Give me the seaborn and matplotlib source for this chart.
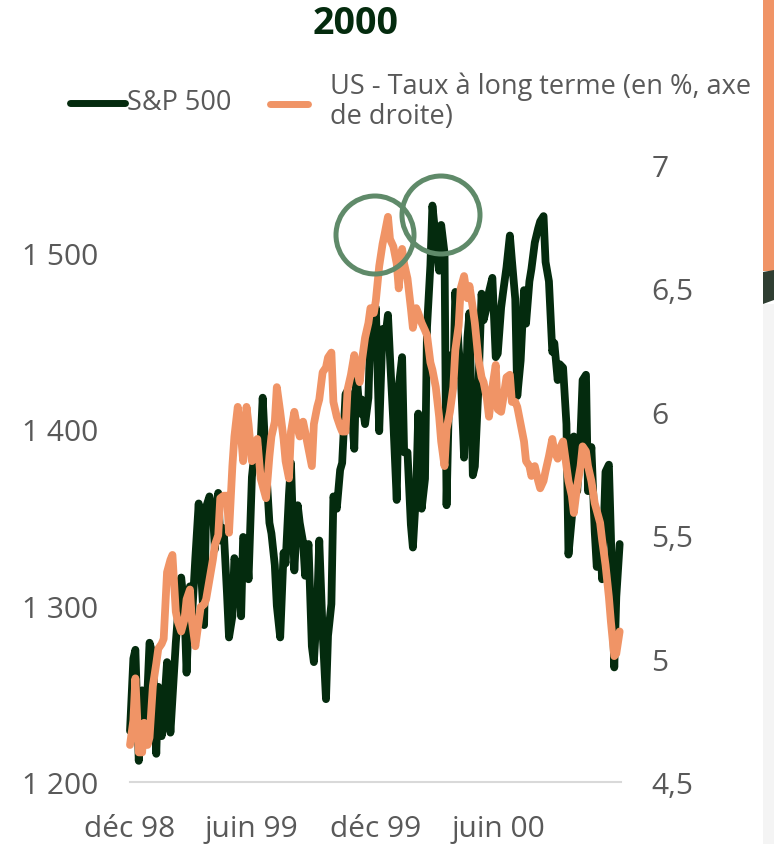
import pandas as pd
import matplotlib.pyplot as plt
import seaborn as sns
from matplotlib.patches import Ellipse, Rectangle, Polygon
from matplotlib.lines import Line2D

# S&P 500 (un point tous les 3 jours ouvrés)
sp500 = [1229, 1270, 1275, 1212, 1252, 1225, 1252, 1279, 1272, 1216,
         1254, 1226, 1239, 1268, 1228, 1247, 1279, 1294, 1316, 1297,
         1262, 1311, 1293, 1327, 1358, 1323, 1289, 1356, 1362, 1354,
         1332, 1364, 1337, 1344, 1307, 1282, 1294, 1327, 1320, 1294,
         1339, 1335, 1315, 1373, 1391, 1394, 1393, 1418, 1379, 1347,
         1341, 1323, 1300, 1282, 1330, 1324, 1363, 1381, 1320, 1357,
         1347, 1336, 1317, 1335, 1277, 1268, 1301, 1337, 1285, 1247,
         1283, 1301, 1362, 1355, 1377, 1381, 1420, 1422, 1417, 1389,
         1433, 1409, 1417, 1403, 1418, 1458, 1458, 1469, 1399, 1457,
         1449, 1465, 1441, 1404, 1360, 1424, 1441, 1387, 1387, 1346,
         1333, 1366, 1409, 1355, 1372, 1458, 1493, 1527, 1508, 1490,
         1516, 1500, 1357, 1442, 1429, 1478, 1446, 1433, 1384, 1452,
         1466, 1374, 1379, 1421, 1477, 1462, 1470, 1478, 1486, 1441,
         1443, 1469, 1478, 1492, 1510, 1496, 1474, 1419, 1439, 1479,
         1460, 1484, 1491, 1506, 1514, 1518, 1521, 1495, 1484, 1444,
         1449, 1428, 1437, 1435, 1403, 1329, 1350, 1396, 1365, 1398,
         1428, 1431, 1365, 1390, 1342, 1322, 1337, 1315, 1376, 1380,
         1340, 1265, 1305, 1335]

# Taux US à long terme (%), axe de droite
taux_long = [4.65, 4.75, 4.92, 4.62, 4.62, 4.74, 4.65, 4.68, 4.89, 4.98,
             5.04, 5.06, 5.08, 5.35, 5.40, 5.42, 5.19, 5.15, 5.11, 5.16,
             5.24, 5.28, 5.15, 5.05, 5.15, 5.21, 5.22, 5.24, 5.32, 5.40,
             5.46, 5.50, 5.65, 5.66, 5.66, 5.51, 5.78, 5.90, 6.02, 5.90,
             5.80, 6.02, 5.95, 5.80, 5.86, 5.89, 5.73, 5.70, 5.65, 5.82,
             5.90, 5.96, 6.10, 6.00, 5.89, 5.80, 5.73, 5.92, 6.00, 5.93,
             5.90, 5.96, 5.92, 5.85, 5.78, 5.95, 6.02, 6.05, 6.16, 6.18,
             6.22, 6.24, 6.04, 5.98, 5.94, 5.92, 5.92, 6.09, 6.15, 6.23,
             6.18, 6.12, 6.20, 6.30, 6.36, 6.42, 6.40, 6.45, 6.59, 6.68,
             6.72, 6.79, 6.70, 6.67, 6.60, 6.50, 6.66, 6.60, 6.54, 6.42,
             6.34, 6.42, 6.40, 6.36, 6.33, 6.31, 6.20, 6.17, 6.10, 5.98,
             5.88, 5.78, 5.93, 6.00, 6.10, 6.25, 6.35, 6.50, 6.55, 6.46,
             6.51, 6.42, 6.36, 6.22, 6.14, 6.12, 6.05, 5.98, 6.10, 6.19,
             6.01, 6.00, 6.05, 6.14, 6.15, 6.04, 6.04, 6.02, 5.95, 5.88,
             5.80, 5.78, 5.74, 5.78, 5.72, 5.69, 5.72, 5.76, 5.82, 5.89,
             5.84, 5.81, 5.85, 5.88, 5.78, 5.72, 5.66, 5.59, 5.70, 5.78,
             5.86, 5.84, 5.78, 5.72, 5.63, 5.60, 5.55, 5.48, 5.38, 5.25,
             5.15, 5.01, 5.02, 5.11]

dates = pd.date_range('1998-12-31', periods=len(sp500), freq='3B')

xticks = pd.to_datetime(['1998-12-31', '1999-06-30', '1999-12-31', '2000-06-30'])
xlabels = ['déc 98', 'juin 99', 'déc 99', 'juin 00']
yticks_g = [1200, 1300, 1400, 1500]
ylabels_g = ['1 200', '1 300', '1 400', '1 500']
yticks_d = [4.5, 5, 5.5, 6, 6.5, 7]
ylabels_d = ['4,5', '5', '5,5', '6', '6,5', '7']

nom_sp = 'S&P 500'
nom_taux = 'US - Taux à long terme (en %, axe\nde droite)'

sns.set_style('white')
plt.rcParams['font.family'] = ['Open Sans', 'DejaVu Sans']

vert = '#042b0e'
orange = '#f09466'
gris = '#595959'

fig = plt.figure(figsize=(7.74, 8.45), dpi=100)
ax = fig.add_axes([130 / 774, 62 / 845, 491 / 774, 617 / 845])
ax2 = ax.twinx()

sns.lineplot(x=dates, y=sp500, ax=ax, color=vert, linewidth=5.6, legend=False,
             clip_on=False)
sns.lineplot(x=dates, y=taux_long, ax=ax2, color=orange, linewidth=5.6,
             legend=False, clip_on=False)

debut, fin = dates[0], pd.Timestamp('2000-12-29')
ax.set_xlim(debut, fin)
ax2.set_xlim(debut, fin)
ax.set_ylim(1200, 1550)
ax2.set_ylim(4.5, 7)

ax.set_xticks(xticks)
ax.set_xticklabels(xlabels)
ax.set_yticks(yticks_g)
ax.set_yticklabels(ylabels_g)
ax2.set_yticks(yticks_d)
ax2.set_yticklabels(ylabels_d)
ax.set_xlabel('')
ax.set_ylabel('')
ax2.set_ylabel('')

ax.tick_params(axis='x', length=0, labelsize=21.5, labelcolor=gris, pad=23)
ax.tick_params(axis='y', length=0, labelsize=21.5, labelcolor=gris, pad=23)
ax2.tick_params(axis='y', length=0, labelsize=21.5, labelcolor=gris, pad=22)

for s in ['top', 'left', 'right']:
    ax.spines[s].set_visible(False)
for s in ax2.spines.values():
    s.set_visible(False)
ax.spines['bottom'].set_color('#d9d9d9')
ax.spines['bottom'].set_linewidth(1.5)
ax.grid(False)
ax2.grid(False)

# titre
fig.text(356 / 774, 1 - 24 / 845, '2000', ha='center', va='center',
         fontsize=27, fontweight='bold', color=vert)

# légende
fig.add_artist(Line2D([70 / 774, 125 / 774], [1 - 104 / 845] * 2, color=vert,
                      lw=5, solid_capstyle='round'))
fig.text(127 / 774, 1 - 103 / 845, nom_sp, ha='left', va='center',
         fontsize=19.5, color=gris)
fig.add_artist(Line2D([270 / 774, 308 / 774], [1 - 105 / 845] * 2,
                      color=orange, lw=5))
fig.text(330 / 774, 1 - 102 / 845, nom_taux, ha='left', va='center',
         fontsize=19.5, color=gris, linespacing=1.1)

# cercles autour des pics
for cx, cy in [(375, 236), (441, 216)]:
    fig.add_artist(Ellipse((cx / 774, 1 - cy / 845), 78 / 774, 78 / 845,
                           transform=fig.transFigure, fill=False,
                           ec='#5f8a69', lw=3.6, zorder=5))

# bord droit de la page
fig.add_artist(Rectangle((763 / 774, 1 - 272 / 845), 11 / 774, 272 / 845,
                         transform=fig.transFigure, fc=orange, ec='none'))
fig.add_artist(Polygon([(763 / 774, 1 - 273 / 845), (1, 1 - 271 / 845),
                        (1, 1 - 301 / 845), (763 / 774, 1 - 305 / 845)],
                       closed=True, transform=fig.transFigure, fc='#2f3e32',
                       ec='none'))
fig.add_artist(Rectangle((763 / 774, 0), 11 / 774, 1 - 305 / 845,
                         transform=fig.transFigure, fc='#f4f4f4', ec='none'))

fig.savefig('out.png', dpi=100)
